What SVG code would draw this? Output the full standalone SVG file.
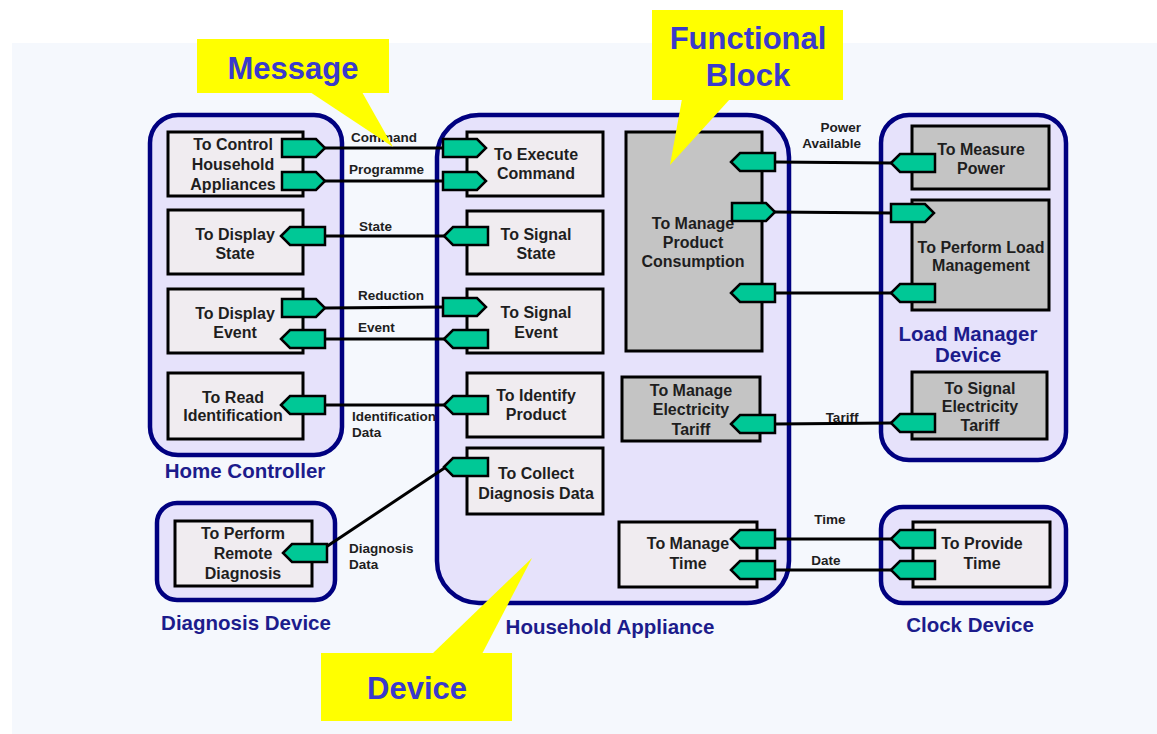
<svg xmlns="http://www.w3.org/2000/svg" width="1157" height="734" viewBox="0 0 1157 734">
<defs>
<style>
.dev{fill:#e6e2fb;stroke:#000080;stroke-width:4.5}
.fb{fill:#f0ecf0;stroke:#000;stroke-width:3}
.fbg{fill:#c4c4c4;stroke:#000;stroke-width:3}
.port{fill:#00c896;stroke:#000;stroke-width:2.5;stroke-linejoin:miter}
.t{font-family:"Liberation Sans",Arial,sans-serif;font-weight:bold;font-size:16px;fill:#1e1e1e;text-anchor:middle}
.lbl{font-family:"Liberation Sans",Arial,sans-serif;font-weight:bold;font-size:13.5px;fill:#1e1e1e}
.dl{font-family:"Liberation Sans",Arial,sans-serif;font-weight:bold;font-size:20.5px;fill:#1c1c8c;text-anchor:middle}
.co{fill:#ffff00}
.ct{font-family:"Liberation Sans",Arial,sans-serif;font-weight:bold;font-size:31px;fill:#3a3acc;text-anchor:middle}
.cn{fill:none;stroke:#000;stroke-width:3}
</style>
<path id="pout" class="port" d="M0,-9 H34 L43,0 L34,9 H0 Z"/>
<path id="pin" class="port" d="M0,0 L9,-9 H44 V9 H9 Z"/>
</defs>
<rect x="0" y="0" width="1157" height="734" fill="#ffffff"/>
<rect x="12" y="43" width="1145" height="691" fill="#f5f8fd"/>

<g id="home-controller">
<rect class="dev" x="150" y="115" width="192" height="340" rx="28"/>
<text class="dl" x="245" y="478">Home Controller</text>
</g>
<g id="diagnosis-device">
<rect class="dev" x="157" y="503" width="178" height="97" rx="20"/>
<text class="dl" x="246" y="630">Diagnosis Device</text>
</g>
<g id="household-appliance">
<rect class="dev" x="437" y="115" width="352" height="488" rx="42"/>
<text class="dl" x="610" y="634">Household Appliance</text>
</g>
<g id="load-manager-device">
<rect class="dev" x="881" y="115" width="185" height="345" rx="28"/>
<text class="dl" x="968" y="341">Load Manager</text>
<text class="dl" x="968" y="362">Device</text>
</g>
<g id="clock-device">
<rect class="dev" x="881" y="507" width="185" height="96" rx="22"/>
<text class="dl" x="970" y="632">Clock Device</text>
</g>

<g id="connectors">
<line class="cn" x1="325" y1="148" x2="445" y2="148"/>
<line class="cn" x1="325" y1="181" x2="445" y2="181"/>
<line class="cn" x1="325" y1="236" x2="445" y2="236"/>
<line class="cn" x1="325" y1="308" x2="445" y2="307"/>
<line class="cn" x1="325" y1="339" x2="445" y2="339"/>
<line class="cn" x1="325" y1="405" x2="445" y2="405"/>
<line class="cn" x1="326" y1="547" x2="446" y2="467"/>
<line class="cn" x1="775" y1="162" x2="891" y2="163"/>
<line class="cn" x1="775" y1="212" x2="891" y2="213"/>
<line class="cn" x1="775" y1="293" x2="891" y2="293"/>
<line class="cn" x1="775" y1="424" x2="891" y2="423"/>
<line class="cn" x1="775" y1="539" x2="891" y2="539"/>
<line class="cn" x1="775" y1="570" x2="891" y2="570"/>
<text class="lbl" x="351" y="142">Command</text>
<text class="lbl" x="349" y="174">Programme</text>
<text class="lbl" x="359" y="231">State</text>
<text class="lbl" x="358" y="300">Reduction</text>
<text class="lbl" x="358" y="332">Event</text>
<text class="lbl" x="352" y="421">Identification</text>
<text class="lbl" x="352" y="437">Data</text>
<text class="lbl" x="349" y="553">Diagnosis</text>
<text class="lbl" x="349" y="569">Data</text>
<text class="lbl" x="861" y="132" text-anchor="end">Power</text>
<text class="lbl" x="861" y="148" text-anchor="end">Available</text>
<text class="lbl" x="842" y="422" text-anchor="middle">Tariff</text>
<text class="lbl" x="830" y="524" text-anchor="middle">Time</text>
<text class="lbl" x="826" y="565" text-anchor="middle">Date</text>
</g>

<g id="fb-control-household-appliances">
<rect class="fb" x="168" y="132" width="135" height="64"/>
<text class="t" x="233" y="150">To Control</text>
<text class="t" x="233" y="170">Household</text>
<text class="t" x="233" y="190">Appliances</text>
<use href="#pout" x="282" y="148"/>
<use href="#pout" x="282" y="181"/>
</g>
<g id="fb-display-state">
<rect class="fb" x="168" y="210" width="135" height="64"/>
<text class="t" x="235" y="240">To Display</text>
<text class="t" x="235" y="259">State</text>
<use href="#pin" x="281" y="236"/>
</g>
<g id="fb-display-event">
<rect class="fb" x="168" y="289" width="135" height="64"/>
<text class="t" x="235" y="319">To Display</text>
<text class="t" x="235" y="338">Event</text>
<use href="#pout" x="282" y="308"/>
<use href="#pin" x="281" y="339"/>
</g>
<g id="fb-read-identification">
<rect class="fb" x="168" y="373" width="135" height="66"/>
<text class="t" x="233" y="403">To Read</text>
<text class="t" x="233" y="421">Identification</text>
<use href="#pin" x="281" y="405"/>
</g>
<g id="fb-perform-remote-diagnosis">
<rect class="fb" x="175" y="521" width="137" height="65"/>
<text class="t" x="243" y="539">To Perform</text>
<text class="t" x="243" y="559">Remote</text>
<text class="t" x="243" y="579">Diagnosis</text>
<use href="#pin" x="283" y="553"/>
</g>

<g id="fb-execute-command">
<rect class="fb" x="467" y="132" width="136" height="64"/>
<text class="t" x="536" y="160">To Execute</text>
<text class="t" x="536" y="179">Command</text>
<use href="#pout" x="443" y="148"/>
<use href="#pout" x="443" y="181"/>
</g>
<g id="fb-signal-state">
<rect class="fb" x="467" y="211" width="136" height="63"/>
<text class="t" x="536" y="240">To Signal</text>
<text class="t" x="536" y="259">State</text>
<use href="#pin" x="444" y="236"/>
</g>
<g id="fb-signal-event">
<rect class="fb" x="467" y="289" width="136" height="64"/>
<text class="t" x="536" y="318">To Signal</text>
<text class="t" x="536" y="338">Event</text>
<use href="#pout" x="443" y="307"/>
<use href="#pin" x="444" y="339"/>
</g>
<g id="fb-identify-product">
<rect class="fb" x="467" y="373" width="136" height="64"/>
<text class="t" x="536" y="401">To Identify</text>
<text class="t" x="536" y="420">Product</text>
<use href="#pin" x="444" y="405"/>
</g>
<g id="fb-collect-diagnosis-data">
<rect class="fb" x="467" y="448" width="136" height="66"/>
<text class="t" x="536" y="479">To Collect</text>
<text class="t" x="536" y="499">Diagnosis Data</text>
<use href="#pin" x="444" y="467"/>
</g>
<g id="fb-manage-product-consumption">
<rect class="fbg" x="626" y="132" width="136" height="219"/>
<text class="t" x="693" y="229">To Manage</text>
<text class="t" x="693" y="248">Product</text>
<text class="t" x="693" y="267">Consumption</text>
<use href="#pin" x="731" y="162"/>
<use href="#pout" x="732" y="212"/>
<use href="#pin" x="731" y="293"/>
</g>
<g id="fb-manage-electricity-tariff">
<rect class="fbg" x="622" y="377" width="138" height="64"/>
<text class="t" x="691" y="396">To Manage</text>
<text class="t" x="691" y="415">Electricity</text>
<text class="t" x="691" y="435">Tariff</text>
<use href="#pin" x="731" y="424"/>
</g>
<g id="fb-manage-time">
<rect class="fb" x="619" y="522" width="138" height="65"/>
<text class="t" x="688" y="549">To Manage</text>
<text class="t" x="688" y="569">Time</text>
<use href="#pin" x="731" y="539"/>
<use href="#pin" x="731" y="570"/>
</g>

<g id="fb-measure-power">
<rect class="fbg" x="912" y="126" width="137" height="63"/>
<text class="t" x="981" y="155">To Measure</text>
<text class="t" x="981" y="174">Power</text>
<use href="#pin" x="891" y="163"/>
</g>
<g id="fb-perform-load-management">
<rect class="fbg" x="912" y="200" width="137" height="110"/>
<text class="t" x="981" y="253">To Perform Load</text>
<text class="t" x="981" y="271">Management</text>
<use href="#pout" x="891" y="213"/>
<use href="#pin" x="891" y="293"/>
</g>
<g id="fb-signal-electricity-tariff">
<rect class="fbg" x="912" y="372" width="135" height="67"/>
<text class="t" x="980" y="394">To Signal</text>
<text class="t" x="980" y="412">Electricity</text>
<text class="t" x="980" y="431">Tariff</text>
<use href="#pin" x="891" y="423"/>
</g>
<g id="fb-provide-time">
<rect class="fb" x="913" y="522" width="137" height="65"/>
<text class="t" x="982" y="549">To Provide</text>
<text class="t" x="982" y="569">Time</text>
<use href="#pin" x="891" y="539"/>
<use href="#pin" x="891" y="570"/>
</g>

<g id="callout-message">
<rect class="co" x="197" y="39" width="192" height="54"/>
<polygon class="co" points="310,92 362,92 393,147"/>
<text class="ct" x="293" y="79">Message</text>
</g>
<g id="callout-functional-block">
<rect class="co" x="652" y="10" width="191" height="90"/>
<polygon class="co" points="682,99 730,99 670,165"/>
<text class="ct" x="748" y="49">Functional</text>
<text class="ct" x="748" y="86">Block</text>
</g>
<g id="callout-device">
<rect class="co" x="321" y="653" width="191" height="68"/>
<polygon class="co" points="432,654 482,654 532,558"/>
<text class="ct" x="417" y="699">Device</text>
</g>
</svg>
